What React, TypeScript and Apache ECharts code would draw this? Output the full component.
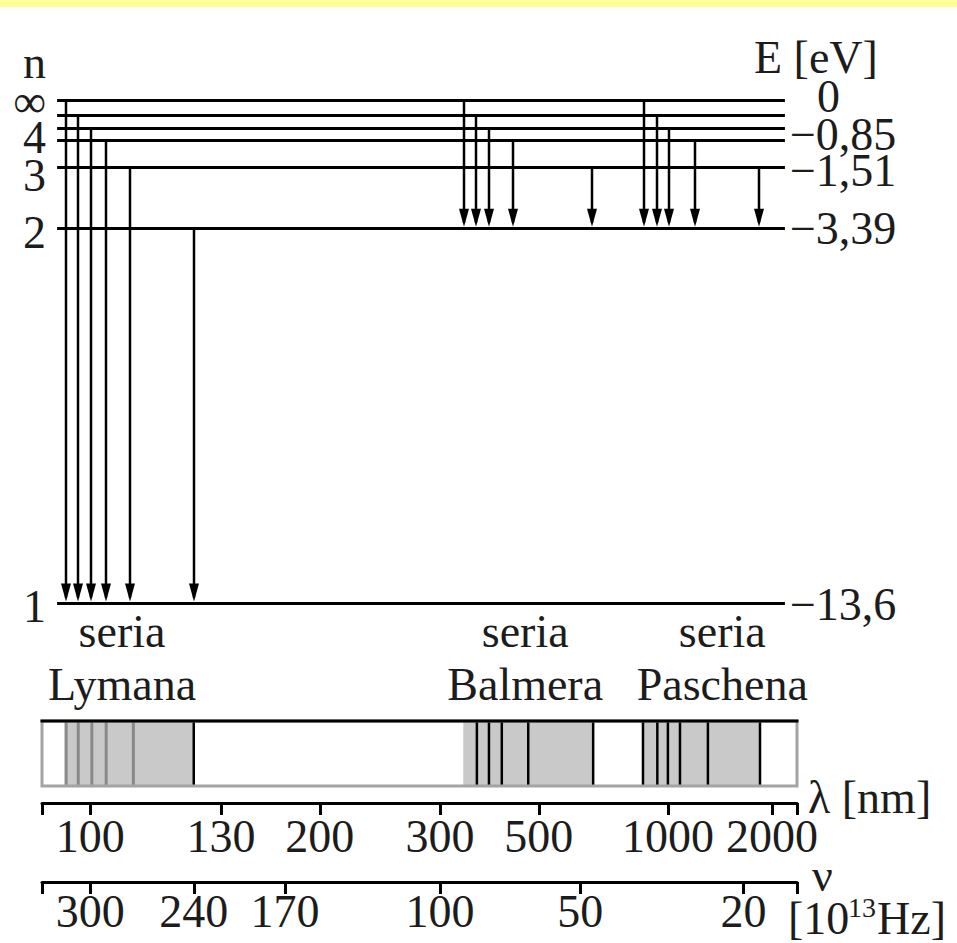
import React, { useEffect, useRef } from 'react';
import * as echarts from 'echarts';

const FONT = '"Liberation Serif", "Times New Roman", Times, serif';
const INK = '#1c1c1c';

// Energy levels: name, energy [eV], schematic drawing height (0..100)
const levelNames = ['∞', '6', '5', '4', '3', '2', '1'];
const levelEnergies = [0, -0.38, -0.54, -0.85, -1.51, -3.39, -13.6];
const levelHeights = [100, 97.0, 94.4, 92.0, 86.7, 74.5, 0];
const levelSpan = [2.0, 98.4];

// Labelled levels: n on the left, E [eV] on the right
const labelLevels = ['∞', '4', '3', '2', '1'];
const nLabelShift = [1, -3, 9, 4, 3];
const eLabelText = ['0', '−0,85', '−1,51', '−3,39', '−13,6'];
const eLabelShift = [-4, -6, 4, 0, 1];

// Transitions (x position on the spectral strip scale, from-level, to-level)
const lymanX = [3.2, 4.8, 6.5, 8.5, 11.7, 20.1];
const lymanFrom = ['∞', '6', '5', '4', '3', '2'];
const lymanTo = '1';
const balmerX = [55.9, 57.5, 59.2, 62.4, 72.9];
const balmerFrom = ['∞', '6', '5', '4', '3'];
const balmerTo = '2';
const paschenX = [79.7, 81.5, 83.1, 86.5, 95.0];
const paschenFrom = ['∞', '6', '5', '4', '3'];
const paschenTo = '2';

// Series names
const seriesNames = ['Lymana', 'Balmera', 'Paschena'];
const seriesCenters = [10.6, 64.0, 90.1];

// Spectral strip
const bandStart = [3.0, 55.8, 79.6];
const bandEnd = [20.1, 73.0, 95.1];
const lymanStripLines = [3.2, 4.8, 6.6, 8.5, 12.1];
const stripLines = [20.1, 57.6, 59.2, 60.9, 64.4, 73.0, 79.6, 81.5, 82.9, 84.5, 88.2, 95.1];

// Wavelength scale
const lambdaLabels = ['100', '130', '200', '300', '500', '1000', '2000'];
const lambdaPos = [6.4, 23.7, 36.8, 52.7, 65.8, 82.9, 96.7];
// Frequency scale
const nuLabels = ['300', '240', '170', '100', '50', '20'];
const nuPos = [6.4, 20.1, 32.2, 52.7, 71.3, 92.9];

const h = (name: string) => levelHeights[levelNames.indexOf(name)];

const transitions: number[][] = [
  ...lymanX.map((x, i) => [x, h(lymanFrom[i]), h(lymanTo)]),
  ...balmerX.map((x, i) => [x, h(balmerFrom[i]), h(balmerTo)]),
  ...paschenX.map((x, i) => [x, h(paschenFrom[i]), h(paschenTo)]),
];

const findIdx = (arr: number[], v: number) => {
  let best = 0;
  let d = Infinity;
  arr.forEach((a, i) => {
    if (Math.abs(a - v) < d) {
      d = Math.abs(a - v);
      best = i;
    }
  });
  return best;
};

const textStyle = (text: string, align: string, size = 46) => ({
  text,
  fill: INK,
  fontSize: size,
  lineHeight: Math.round(size * 0.75),
  fontFamily: FONT,
  align,
  verticalAlign: 'middle',
});

const txt = (text: string, x: number, y: number, size = 46) => ({
  type: 'text',
  x,
  y,
  style: textStyle(text, 'left', size),
});

const scaleAxis = (gridIndex: number, pos: number[], labels: string[], margin: number) => ({
  gridIndex,
  type: 'value',
  min: 0,
  max: 100,
  position: 'bottom',
  axisLine: { show: true, lineStyle: { color: '#000', width: 3 } },
  axisTick: {
    show: true,
    customValues: [0, ...pos, 100],
    length: 12,
    lineStyle: { color: '#000', width: 3 },
  },
  axisLabel: {
    show: true,
    customValues: pos,
    showMinLabel: true,
    showMaxLabel: true,
    margin,
    fontSize: 46,
    lineHeight: 34,
    fontFamily: FONT,
    color: INK,
    formatter: (v: number) => labels[findIdx(pos, v)],
  },
  splitLine: { show: false },
});

const hiddenX = (gridIndex: number) => ({ gridIndex, type: 'value', min: 0, max: 100, show: false });

const option: any = {
  animation: false,
  backgroundColor: '#ffffff',
  grid: [
    { left: 42, right: 160, top: 100, height: 503 },
    { left: 42, right: 160, top: 721, height: 65 },
    { left: 42, right: 160, top: 780, height: 23 },
    { left: 42, right: 160, top: 859, height: 23 },
  ],
  xAxis: [hiddenX(0), hiddenX(1), scaleAxis(2, lambdaPos, lambdaLabels, 16), scaleAxis(3, nuPos, nuLabels, 12)],
  yAxis: [
    { gridIndex: 0, type: 'value', min: 0, max: 100, show: false },
    { gridIndex: 1, type: 'value', min: 0, max: 1, show: false },
    { gridIndex: 2, type: 'value', min: 0, max: 1, show: false },
    { gridIndex: 3, type: 'value', min: 0, max: 1, show: false },
  ],
  graphic: [
    { type: 'rect', left: 0, top: 0, shape: { width: 957, height: 7 }, style: { fill: '#ffff99' } },
    txt('n', 23, 62),
    txt('E [eV]', 754, 57),
    txt('λ [nm]', 808, 797),
    txt('ν', 812, 875),
    txt('[10', 788, 918),
    txt('13', 848, 907, 28),
    txt('Hz]', 877, 918),
  ],
  series: [
    {
      name: 'levels',
      type: 'custom',
      xAxisIndex: 0,
      yAxisIndex: 0,
      clip: false,
      data: levelHeights.map((y, i) => [levelSpan[0], y, levelSpan[1], levelEnergies[i]]),
      renderItem: (params: any, api: any) => {
        const p0 = api.coord([api.value(0), api.value(1)]);
        const p1 = api.coord([api.value(2), api.value(1)]);
        const y = Math.round(p0[1]) + 0.5;
        return {
          type: 'line',
          shape: { x1: p0[0], y1: y, x2: p1[0], y2: y },
          style: { stroke: '#000', lineWidth: 3 },
        };
      },
    },
    {
      name: 'level labels',
      type: 'custom',
      xAxisIndex: 0,
      yAxisIndex: 0,
      clip: false,
      data: labelLevels.map((n, i) => [h(n), i]),
      renderItem: (params: any, api: any) => {
        const i = api.value(1);
        const pl = api.coord([levelSpan[0], api.value(0)]);
        const pr = api.coord([levelSpan[1], api.value(0)]);
        const e = eLabelText[i];
        return {
          type: 'group',
          children: [
            {
              type: 'text',
              x: pl[0] - 11,
              y: pl[1] + nLabelShift[i],
              style: textStyle(labelLevels[i], 'right'),
            },
            {
              type: 'text',
              x: pr[0] + 5 + (e === '0' ? 27 : 0),
              y: pr[1] + eLabelShift[i],
              style: textStyle(e, 'left'),
            },
          ],
        };
      },
    },
    {
      name: 'transitions',
      type: 'custom',
      xAxisIndex: 0,
      yAxisIndex: 0,
      clip: false,
      data: transitions,
      renderItem: (params: any, api: any) => {
        const a = api.coord([api.value(0), api.value(1)]);
        const b = api.coord([api.value(0), api.value(2)]);
        const x = Math.round(a[0]);
        const yTo = b[1] - 1.5;
        return {
          type: 'group',
          children: [
            {
              type: 'line',
              shape: { x1: x, y1: a[1], x2: x, y2: yTo - 4 },
              style: { stroke: '#000', lineWidth: 2.5 },
            },
            {
              type: 'polygon',
              shape: { points: [[x - 5, yTo - 18], [x + 5, yTo - 18], [x, yTo]] },
              style: { fill: '#000' },
            },
          ],
        };
      },
    },
    {
      name: 'series names',
      type: 'custom',
      xAxisIndex: 1,
      yAxisIndex: 1,
      clip: false,
      data: seriesCenters.map((x, i) => [x, i]),
      renderItem: (params: any, api: any) => {
        const p = api.coord([api.value(0), 1]);
        const name = seriesNames[api.value(1)];
        return {
          type: 'group',
          children: [
            { type: 'text', x: p[0], y: p[1] - 90, style: textStyle('seria', 'center') },
            { type: 'text', x: p[0], y: p[1] - 37, style: textStyle(name, 'center') },
          ],
        };
      },
    },
    {
      name: 'strip',
      type: 'custom',
      xAxisIndex: 1,
      yAxisIndex: 1,
      clip: false,
      data: [[0, 0]],
      renderItem: (params: any, api: any) => {
        const children: any[] = [];
        const top = api.coord([0, 1])[1];
        const bottom = api.coord([0, 0])[1];
        const left = api.coord([0, 0])[0];
        const right = api.coord([100, 0])[0];
        bandStart.forEach((s, i) => {
          const x0 = api.coord([s, 0])[0];
          const x1 = api.coord([bandEnd[i], 0])[0];
          children.push({
            type: 'rect',
            shape: { x: x0, y: top, width: x1 - x0, height: bottom - top },
            style: { fill: '#c9c9c9' },
          });
        });
        lymanStripLines.forEach((s) => {
          const x = api.coord([s, 0])[0];
          children.push({
            type: 'line',
            shape: { x1: x, y1: top, x2: x, y2: bottom },
            style: { stroke: '#8a8a8a', lineWidth: 3 },
          });
        });
        stripLines.forEach((s) => {
          const x = api.coord([s, 0])[0];
          children.push({
            type: 'line',
            shape: { x1: x, y1: top, x2: x, y2: bottom },
            style: { stroke: '#000', lineWidth: 2.5 },
          });
        });
        children.push({
          type: 'rect',
          shape: { x: left, y: top, width: right - left, height: bottom - top },
          style: { fill: 'none', stroke: '#a4a4a4', lineWidth: 3 },
        });
        children.push({
          type: 'line',
          shape: { x1: left - 1.5, y1: top, x2: right + 1.5, y2: top },
          style: { stroke: '#000', lineWidth: 3 },
        });
        return { type: 'group', children };
      },
    },
  ],
};

export default function App() {
  const ref = useRef<HTMLDivElement>(null);
  useEffect(() => {
    const chart = echarts.init(ref.current!, null, { renderer: 'svg' });
    chart.setOption(option);
    return () => chart.dispose();
  }, []);
  return (
    <div
      ref={ref}
      style={{ position: 'absolute', left: 0, top: 0, width: 957, height: 943, background: '#fff' }}
    />
  );
}
